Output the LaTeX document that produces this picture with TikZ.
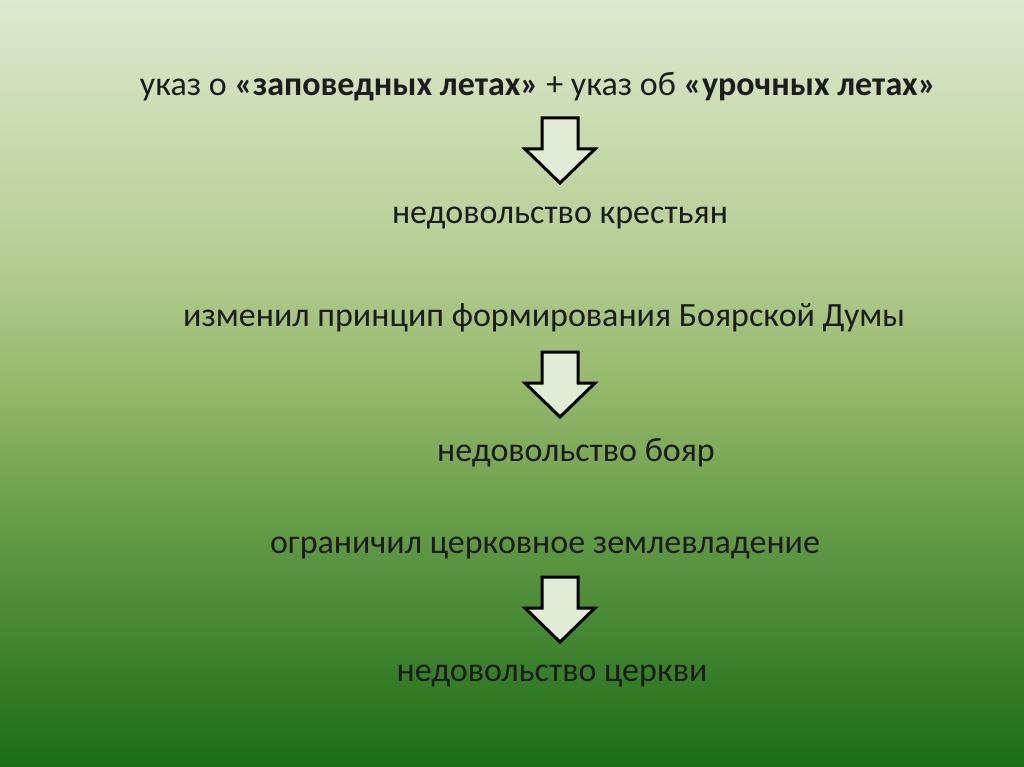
\documentclass[tikz,border=0pt]{standalone}
\usepackage{fontspec}
\setmainfont{Carlito}
\definecolor{bgtop}{RGB}{222,232,206}
\definecolor{bgA}{RGB}{182,206,148}
\definecolor{bgB}{RGB}{150,185,108}
\definecolor{bgC}{RGB}{102,156,72}
\definecolor{bgbot}{RGB}{28,108,22}
\definecolor{arrowfill}{RGB}{226,236,212}
\definecolor{txt}{RGB}{28,28,28}
\pgfdeclareverticalshading{bgshade}{100bp}{color(0bp)=(bgbot); color(25bp)=(bgbot); color(41bp)=(bgC); color(50bp)=(bgB); color(58.5bp)=(bgA); color(75bp)=(bgtop); color(100bp)=(bgtop)}
\tikzset{
  label/.style={font=\fontsize{34}{40}\selectfont, text=txt, inner sep=0pt, anchor=center},
  downarrow/.style={draw=black, line width=3pt, fill=arrowfill, line join=miter}
}
\newcommand{\dnarrow}[2]{% #1 = x center, #2 = top y
  \draw[downarrow] (#1-18,#2) -- (#1+18,#2) -- (#1+18,#2+31) -- (#1+35,#2+31) -- (#1,#2+65) -- (#1-35,#2+31) -- (#1-18,#2+31) -- cycle;
}
\begin{document}
\begin{tikzpicture}[x=1pt,y=-1pt]
\useasboundingbox (0,0) rectangle (1024,767);
\shade[shading=bgshade] (0,0) rectangle (1024,767);
\node[label] (l1) at (538,87) {указ о \textbf{«заповедных летах»} + указ об \textbf{«урочных летах»}};
\node[label] (l2) at (560,218) {недовольство крестьян};
\node[label] (l3) at (544,318) {изменил принцип формирования Боярской Думы};
\node[label] (l4) at (576,453) {недовольство бояр};
\node[label] (l5) at (545,548) {ограничил церковное землевладение};
\node[label] (l6) at (552,676) {недовольство церкви};
\dnarrow{560}{118}
\dnarrow{560}{352}
\dnarrow{560}{577}
\end{tikzpicture}
\end{document}
